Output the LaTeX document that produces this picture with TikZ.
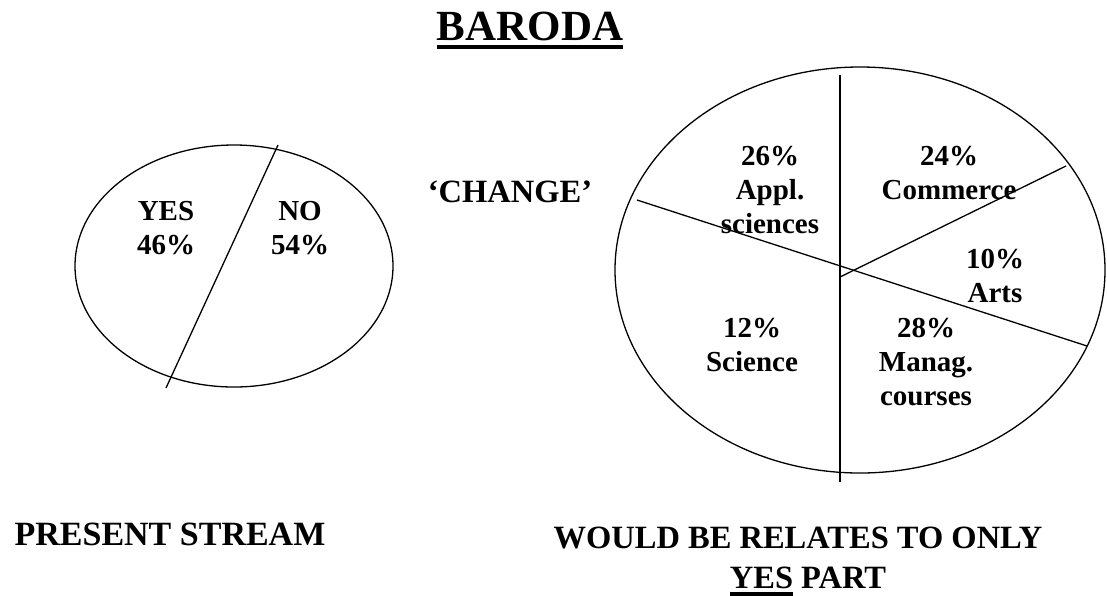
\documentclass[tikz,border=0pt]{standalone}
\usepackage{fontspec}
\setmainfont{Liberation Serif}

% thick underline: #1 = depth below baseline of the rule's lower edge, #2 = thickness, #3 = text
\newcommand\thickul[3]{\setbox0\hbox{#3}\makebox[0pt][l]{\rule[-#1]{\wd0}{#2}}\box0\relax}
% centred multi-line label whose baseline is the first line's baseline
\newcommand\labelstack[1]{\vtop{\halign{\hfil##\hfil\cr#1\crcr}}}

\begin{document}
\begin{tikzpicture}[x=1pt,y=-1pt,
  chartline/.style={line width=1.3pt, black},
  title/.style={inner sep=0pt, anchor=base, font=\fontsize{43}{50}\selectfont\bfseries},
  caption/.style={inner sep=0pt, anchor=base, align=center, font=\fontsize{32.5}{40}\selectfont\bfseries},
  slice/.style={inner sep=0pt, anchor=base, font=\fontsize{29}{34}\selectfont\bfseries}]

  \useasboundingbox (0,0) rectangle (1107,595);

  % title
  \node[title] (ttl) at (530,40) {\thickul{9pt}{4pt}{BARODA}};

  % present stream pie
  \coordinate (lc) at (234,266);
  \draw[chartline] (lc) ellipse [x radius=159, y radius=121];
  \coordinate (la) at (278,145);
  \coordinate (lb) at (166,388);
  \draw[chartline] (la) -- (lb);
  \node[slice] (yes) at (166,220) {\labelstack{YES\cr 46\%}};
  \node[slice] (no)  at (300,220) {\labelstack{NO\cr 54\%}};

  \node[caption] (chg) at (510,202) {‘CHANGE’};

  % change pie
  \coordinate (rc) at (860,270);
  \draw[chartline] (rc) ellipse [x radius=245, y radius=203];
  \coordinate (vt) at (840,75);
  \coordinate (vb) at (840,482);
  \coordinate (dl) at (637,200);
  \coordinate (dr) at (1087,346);
  \coordinate (hub) at (840,277);
  \coordinate (ur) at (1066,166);
  \draw[chartline] (vt) -- (vb);
  \draw[chartline] (dl) -- (dr);
  \draw[chartline] (hub) -- (ur);

  \node[slice] (appl) at (770,165) {\labelstack{26\%\cr Appl.\cr sciences}};
  \node[slice] (comm) at (949,165) {\labelstack{24\%\cr Commerce}};
  \node[slice] (arts) at (995,268) {\labelstack{10\%\cr Arts}};
  \node[slice] (sci)  at (752,337) {\labelstack{12\%\cr Science}};
  \node[slice] (mgmt) at (926,337) {\labelstack{28\%\cr Manag.\cr courses}};

  % captions
  \node[caption, font=\fontsize{34}{40}\selectfont\bfseries] (present) at (170,545) {PRESENT STREAM};
  \node[caption] (would) at (798,548) {WOULD BE RELATES TO ONLY};
  \node[caption] (yespart) at (808,588) {\thickul{7.5pt}{3.5pt}{YES} PART};
\end{tikzpicture}
\end{document}
